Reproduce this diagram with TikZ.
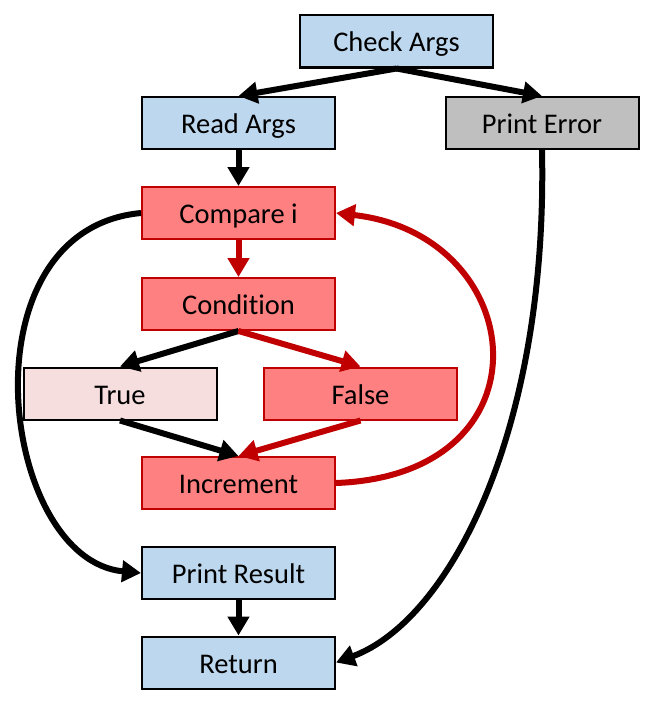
\documentclass[tikz,border=0pt]{standalone}
\usepackage{fontspec}
\setmainfont{Carlito}[Ligatures=NoCommon]
\usetikzlibrary{arrows.meta}
\definecolor{boxblue}{HTML}{BDD7EE}
\definecolor{boxgray}{HTML}{BFBFBF}
\definecolor{boxred}{HTML}{FF8080}
\definecolor{darkred}{HTML}{C00000}
\definecolor{boxpink}{HTML}{F6DEDE}
\begin{document}
\begin{tikzpicture}[x=1pt,y=-1pt,
  box/.style={draw, line width=2pt, minimum width=193pt, minimum height=52pt, inner sep=0pt, text height=23pt, text depth=2pt, font=\fontsize{28.5}{32}\selectfont},
  bluebox/.style={box, fill=boxblue, draw=black},
  graybox/.style={box, fill=boxgray, draw=black},
  redbox/.style={box, fill=boxred, draw=darkred},
  pinkbox/.style={box, fill=boxpink, draw=black},
  conn/.style={line width=6pt, -{Triangle[length=19pt,width=21pt]}},
  blackconn/.style={conn, draw=black},
  redconn/.style={conn, draw=darkred, fill=darkred},
]
\useasboundingbox (0,0) rectangle (649,717);

\node[bluebox] (check) at (396.5,41.5) {Check Args};
\node[bluebox] (read) at (238.5,123) {Read Args};
\node[graybox] (err) at (542,123) {Print Error};
\node[redbox] (cmp) at (238.5,213) {Compare i};
\node[redbox] (cond) at (238.5,304) {Condition};
\node[pinkbox] (true) at (120,393.5) {True};
\node[redbox] (false) at (360.5,393.5) {False};
\node[redbox] (inc) at (238.5,483) {Increment};
\node[bluebox] (res) at (238.5,573) {Print Result};
\node[bluebox] (ret) at (238.5,662.5) {Return};

\draw[blackconn] (check.south) -- (read.north);
\draw[blackconn] (check.south) -- (err.north);
\draw[blackconn] (read.south) -- (cmp.north);
\draw[redconn] (cmp.south) -- (cond.north);
\draw[blackconn] (cond.south) -- (true.north);
\draw[redconn] (cond.south) -- (false.north);
\draw[blackconn] (true.south) -- (inc.north);
\draw[redconn] (false.south) -- (inc.north);
\draw[blackconn] (res.south) -- (ret.north);
\draw[blackconn] (cmp.west) .. controls (-40,230) and (0,560) .. (res.west);
\draw[redconn, fill=none] (inc.east) .. controls (555,475) and (530,235) .. (cmp.east);
\draw[blackconn] (err.south) .. controls (548,430) and (450,620) .. (ret.east);
\end{tikzpicture}
\end{document}
